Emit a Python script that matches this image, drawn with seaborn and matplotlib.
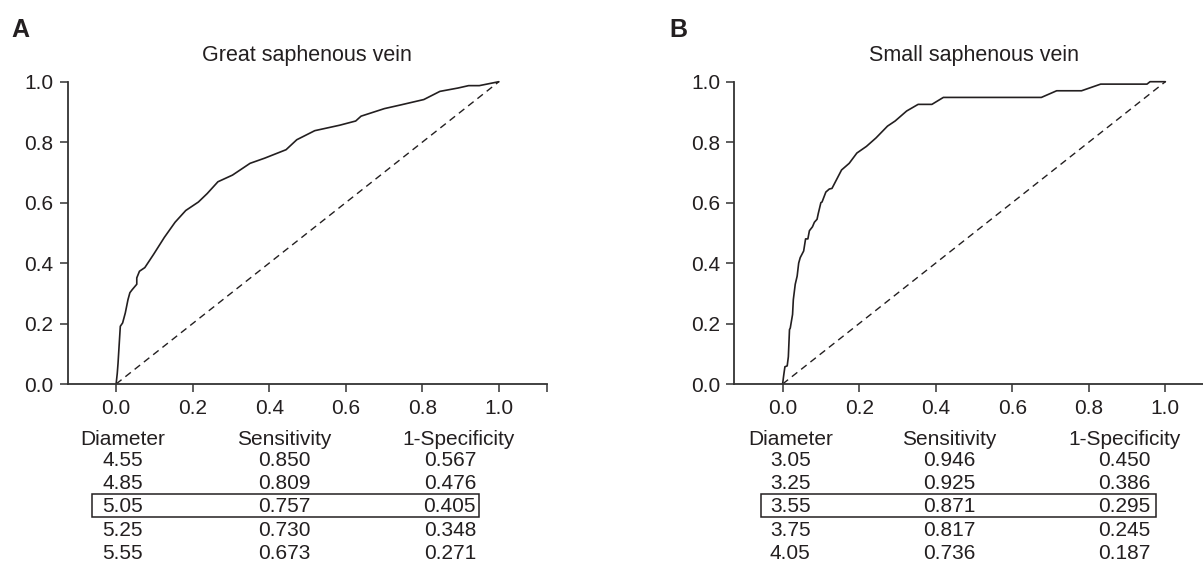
import matplotlib
matplotlib.use("Agg")
import matplotlib.pyplot as plt
import matplotlib.patches as patches
import matplotlib.transforms as mtransforms
import pandas as pd
import seaborn as sns

# ROC curves: 1-specificity vs sensitivity
gsv_fpr = [0.0, 0.003, 0.005, 0.008, 0.011, 0.017, 0.024, 0.031, 0.036, 0.042,
           0.054, 0.054, 0.061, 0.075, 0.098, 0.126, 0.154, 0.182, 0.215, 0.238,
           0.266, 0.304, 0.350, 0.388, 0.444, 0.472, 0.519, 0.584, 0.626, 0.640,
           0.701, 0.743, 0.804, 0.846, 0.893, 0.921, 0.949, 1.0]
gsv_tpr = [0.0, 0.035, 0.068, 0.130, 0.191, 0.202, 0.235, 0.279, 0.302, 0.312,
           0.330, 0.351, 0.373, 0.385, 0.429, 0.485, 0.535, 0.574, 0.602, 0.630,
           0.669, 0.691, 0.730, 0.747, 0.775, 0.808, 0.838, 0.856, 0.870, 0.886,
           0.911, 0.923, 0.941, 0.968, 0.979, 0.987, 0.987, 1.0]

ssv_fpr = [0.0, 0.003, 0.006, 0.012, 0.015, 0.018, 0.020, 0.026, 0.028, 0.033,
           0.038, 0.042, 0.046, 0.055, 0.060, 0.066, 0.070, 0.078, 0.083, 0.090,
           0.093, 0.100, 0.103, 0.113, 0.122, 0.129, 0.154, 0.174, 0.194, 0.219,
           0.244, 0.274, 0.294, 0.324, 0.354, 0.390, 0.420, 0.676, 0.716, 0.781,
           0.831, 0.952, 0.960, 1.0]
ssv_tpr = [0.0, 0.030, 0.057, 0.060, 0.090, 0.180, 0.185, 0.230, 0.279, 0.330,
           0.357, 0.400, 0.418, 0.440, 0.480, 0.480, 0.507, 0.520, 0.535, 0.545,
           0.563, 0.600, 0.602, 0.635, 0.645, 0.647, 0.708, 0.730, 0.764, 0.786,
           0.814, 0.853, 0.870, 0.903, 0.925, 0.925, 0.948, 0.948, 0.970, 0.970,
           0.992, 0.992, 1.0, 1.0]

chance = [0.0, 1.0]

# cut-off tables under each panel
gsv_diameter = ["4.55", "4.85", "5.05", "5.25", "5.55"]
gsv_sens = ["0.850", "0.809", "0.757", "0.730", "0.673"]
gsv_spec = ["0.567", "0.476", "0.405", "0.348", "0.271"]
ssv_diameter = ["3.05", "3.25", "3.55", "3.75", "4.05"]
ssv_sens = ["0.946", "0.925", "0.871", "0.817", "0.736"]
ssv_spec = ["0.450", "0.386", "0.295", "0.245", "0.187"]
col_headers = ["Diameter", "Sensitivity", "1-Specificity"]
best_row = 2

titles = ["Great saphenous vein", "Small saphenous vein"]
letters = ["A", "B"]
tick_vals = [0.0, 0.2, 0.4, 0.6, 0.8, 1.0]
tick_labels = ["0.0", "0.2", "0.4", "0.6", "0.8", "1.0"]

sns.set_theme(style="ticks")
plt.rcParams["font.family"] = ["Liberation Sans", "DejaVu Sans"]
ink = "#231f20"

W, H = 1203, 568
fig = plt.figure(figsize=(W / 100, H / 100), dpi=100)

panels = [
    dict(fpr=gsv_fpr, tpr=gsv_tpr, diam=gsv_diameter, sens=gsv_sens, spec=gsv_spec,
         left=67.5, letter_x=11.7, cols=[0.017, 0.440, 0.896], spec_col=0.872,
         box=(-0.0635, 0.9485)),
    dict(fpr=ssv_fpr, tpr=ssv_tpr, diam=ssv_diameter, sens=ssv_sens, spec=ssv_spec,
         left=734.0, letter_x=669.0, cols=[0.020, 0.435, 0.893], spec_col=0.892,
         box=(-0.057, 0.976)),
]

header_y = 445.0
row_y = [465.7, 489.0, 512.3, 535.7, 559.0]
box_top, box_bot = 494.0, 516.7
fs = 15

for i, p in enumerate(panels):
    ax = fig.add_axes([p["left"] / W, 1 - 384.0 / H, 479.2 / W, (384.0 - 81.7) / H])
    df = pd.DataFrame({"fpr": p["fpr"], "tpr": p["tpr"]})
    sns.lineplot(data=df, x="fpr", y="tpr", sort=False, estimator=None, ax=ax,
                 color=ink, linewidth=1.2, clip_on=False)
    sns.lineplot(x=chance, y=chance, sort=False, estimator=None, ax=ax,
                 color=ink, linewidth=1.0, linestyle=(0, (5, 3.5)), clip_on=False)

    ax.set_xlim(-0.127, 1.125)
    ax.set_ylim(0, 1)
    ax.set_xlabel("")
    ax.set_ylabel("")
    ax.set_xticks(tick_vals + [1.125])
    ax.set_xticklabels(tick_labels + [""])
    ax.set_yticks(tick_vals)
    ax.set_yticklabels(tick_labels)
    ax.tick_params(axis="both", length=5.5, width=1.1, color="#333333",
                   labelsize=fs, labelcolor=ink)
    ax.tick_params(axis="x", pad=5.5)
    ax.tick_params(axis="y", pad=4.5)
    for s in ["top", "right"]:
        ax.spines[s].set_visible(False)
    for s in ["left", "bottom"]:
        ax.spines[s].set_color("#333333")
        ax.spines[s].set_linewidth(1.3)
    ax.set_title(titles[i], fontsize=15.5, color=ink, pad=15)

    fig.text(p["letter_x"] / W, 1 - 36.7 / H, letters[i], fontsize=18,
             fontweight="bold", color=ink, va="baseline",
             family=["Liberation Sans Narrow", "Liberation Sans"])

    tr = mtransforms.blended_transform_factory(ax.transData, fig.transFigure)
    for c, hdr in enumerate(col_headers):
        ax.text(p["cols"][c], 1 - header_y / H, hdr, transform=tr, ha="center",
                va="baseline", fontsize=fs, color=ink, clip_on=False)
    for r in range(len(p["diam"])):
        yy = 1 - row_y[r] / H
        ax.text(p["cols"][0], yy, p["diam"][r], transform=tr, ha="center",
                va="baseline", fontsize=fs, color=ink)
        ax.text(p["cols"][1], yy, p["sens"][r], transform=tr, ha="center",
                va="baseline", fontsize=fs, color=ink)
        ax.text(p["spec_col"], yy, p["spec"][r], transform=tr, ha="center",
                va="baseline", fontsize=fs, color=ink)
    bx0, bx1 = p["box"]
    ax.add_patch(patches.Rectangle((bx0, 1 - box_bot / H), bx1 - bx0,
                                   (box_bot - box_top) / H, transform=tr,
                                   fill=False, edgecolor=ink, linewidth=1.1,
                                   clip_on=False))

fig.savefig("out.png", dpi=100)
